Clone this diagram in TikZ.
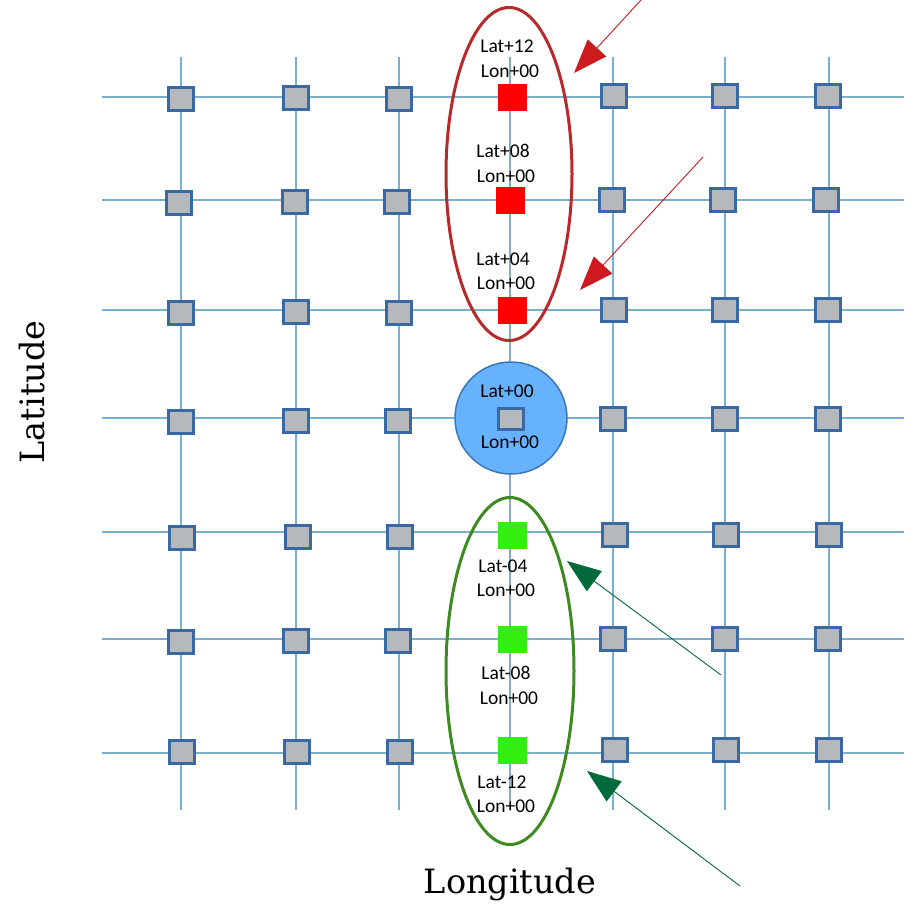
\documentclass[tikz,border=0pt]{standalone}
\usepackage{fontspec}
\usetikzlibrary{arrows.meta,shapes.geometric}
\newfontfamily\lblfont{Carlito}
\newfontfamily\axfont{DejaVu Serif}
\definecolor{gridline}{HTML}{7DAECA}
\definecolor{cellborder}{HTML}{3A68A2}
\definecolor{cellfill}{HTML}{B5B9BB}
\definecolor{northred}{HTML}{FF0000}
\definecolor{southgreen}{HTML}{33EE11}
\definecolor{redring}{HTML}{B8292B}
\definecolor{greenring}{HTML}{3C8A20}
\definecolor{redarrow}{HTML}{CC1A1F}
\definecolor{greenarrow}{HTML}{006A3A}
\definecolor{originfill}{HTML}{66B2FF}
\definecolor{originborder}{HTML}{3A78B8}
\tikzset{
  gridrule/.style={draw=gridline, line width=2pt},
  cell/.style={draw=cellborder, fill=cellfill, line width=3.6pt, inner sep=0pt,
    minimum width=25pt, minimum height=23pt},
  hotcell/.style={fill=#1, draw=none, inner sep=0pt, minimum width=29pt, minimum height=27pt},
  lbl/.style={font=\lblfont\fontsize{19.5}{19.5}\selectfont, anchor=base, inner sep=0pt},
  axis/.style={font=\axfont\fontsize{33.5}{34}\selectfont, inner sep=0pt},
  ring/.style={draw=#1, line width=3pt},
  pointer/.style={draw=#1, line width=0.9pt, -{Triangle[length=34pt,width=25pt,fill=#1]}}
}
\begin{document}
\begin{tikzpicture}[x=1pt, y=-1pt]
\useasboundingbox (0,0) rectangle (911,905);

% grid rules
\foreach \gy in {97,200,310,418,532,639,753}
  \draw[gridrule] (102,\gy) -- (904,\gy);
\foreach \gx in {181,296,399,510,613,725,829}
  \draw[gridrule] (\gx,57) -- (\gx,810);

% ordinary grid cells
\foreach \cx/\cy [count=\i] in {
  181/99, 296/98, 399/99, 614/96, 725/96, 828/96,
  179/203, 295/202, 397/202, 612/200, 723/200, 826/200,
  181/313, 296/312, 399/313, 614/310, 725/310, 828/310,
  181/422, 296/421, 398/421, 613/419, 725/419, 828/419,
  182/538, 298/537, 400/537, 615/535, 726/535, 829/535,
  181/642, 296/641, 398/641, 613/639, 725/639, 828/639,
  182/752, 297/752, 400/752, 615/750, 726/750, 829/750}
  \node[cell] (c\i) at (\cx,\cy) {};

% origin cell
\node[circle, fill=originfill, draw=originborder, line width=1.5pt,
  minimum size=112pt, inner sep=0pt] (origin) at (511,418) {};
\node[cell, minimum width=25pt, minimum height=21pt] (o0) at (511,419) {};
\node[lbl] (olat) at (507,397) {Lat+00};
\node[lbl] (olon) at (510,448) {Lon+00};

% northern cells
\node[ring=redring, ellipse, minimum width=126pt, minimum height=333pt,
  inner sep=0pt] (north) at (509,174) {};
\node[hotcell=northred] (n12) at (512,97) {};
\node[hotcell=northred] (n08) at (510,200) {};
\node[hotcell=northred] (n04) at (512,310) {};
\node[lbl] (n12a) at (507,52) {Lat+12};
\node[lbl] (n12b) at (510,77) {Lon+00};
\node[lbl] (n08a) at (503,157) {Lat+08};
\node[lbl] (n08b) at (506,182) {Lon+00};
\node[lbl] (n04a) at (503,265) {Lat+04};
\node[lbl] (n04b) at (506,289) {Lon+00};

% southern cells
\node[ring=greenring, ellipse, minimum width=128pt, minimum height=347pt,
  inner sep=0pt] (south) at (510,671) {};
\node[hotcell=southgreen] (s04) at (512,535) {};
\node[hotcell=southgreen] (s08) at (512,639) {};
\node[hotcell=southgreen] (s12) at (512,750) {};
\node[lbl] (s04a) at (503,572) {Lat-04};
\node[lbl] (s04b) at (506,596) {Lon+00};
\node[lbl] (s08a) at (506,679) {Lat-08};
\node[lbl] (s08b) at (509,704) {Lon+00};
\node[lbl] (s12a) at (502,788) {Lat-12};
\node[lbl] (s12b) at (506,812) {Lon+00};

% pointers
\coordinate (r1a) at (641,0);    \coordinate (r1b) at (574,73);
\coordinate (r2a) at (703,157);  \coordinate (r2b) at (580,290);
\coordinate (g1a) at (721,675);  \coordinate (g1b) at (567,561);
\coordinate (g2a) at (740,886);  \coordinate (g2b) at (587,771);
\draw[pointer=redarrow] (r1a) -- (r1b);
\draw[pointer=redarrow] (r2a) -- (r2b);
\draw[pointer=greenarrow] (g1a) -- (g1b);
\draw[pointer=greenarrow] (g2a) -- (g2b);

% axis titles
\node[axis, rotate=90] (lat) at (32,392) {Latitude};
\node[axis] (lon) at (510,884) {Longitude};
\end{tikzpicture}
\end{document}
